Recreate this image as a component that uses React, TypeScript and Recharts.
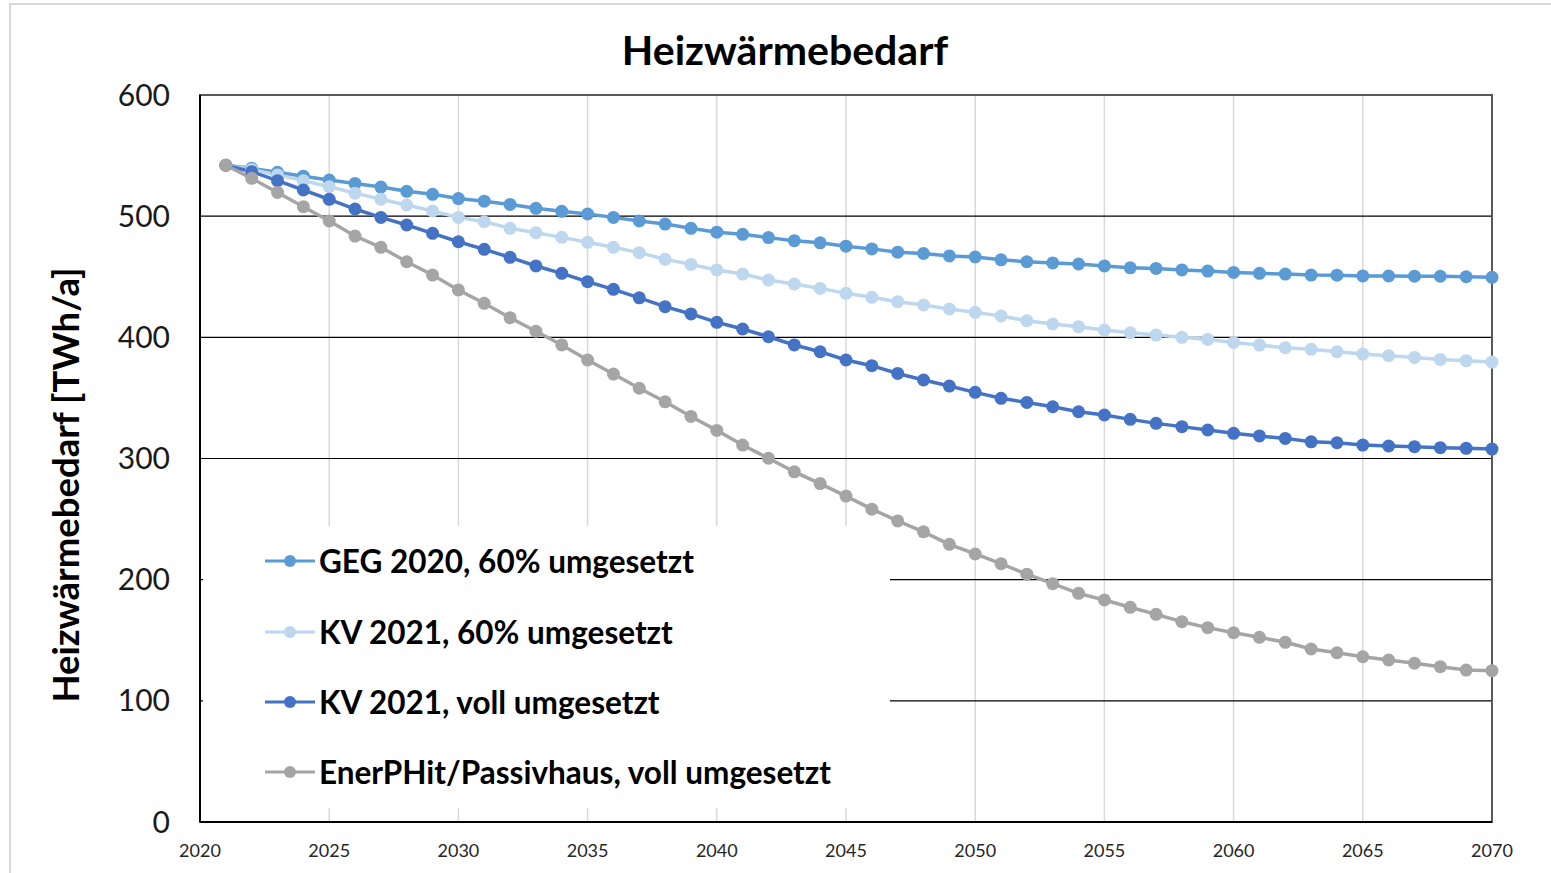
import { CartesianGrid, Legend, Line, LineChart, ReferenceArea, XAxis, YAxis } from 'recharts';

const years = [
  2021, 2022, 2023, 2024, 2025, 2026, 2027, 2028, 2029, 2030,
  2031, 2032, 2033, 2034, 2035, 2036, 2037, 2038, 2039, 2040,
  2041, 2042, 2043, 2044, 2045, 2046, 2047, 2048, 2049, 2050,
  2051, 2052, 2053, 2054, 2055, 2056, 2057, 2058, 2059, 2060,
  2061, 2062, 2063, 2064, 2065, 2066, 2067, 2068, 2069, 2070,
];

const geg60 = [
  542, 539.5, 536.2, 533, 529.8, 527, 524, 520.5, 518, 514.5,
  512.4, 509.7, 506.5, 504, 501.8, 499, 496, 493.5, 490, 486.8,
  485, 482.3, 479.8, 478, 475.2, 473, 470.3, 469.2, 467.2, 466.3,
  464, 462.4, 461.4, 460.5, 458.9, 457.4, 456.9, 455.6, 454.7, 453.6,
  452.8, 452.2, 451.4, 451.3, 450.7, 450.6, 450.5, 450.4, 450, 449.5,
];

const kv60 = [
  542, 538.5, 534, 529.3, 524.3, 519, 514, 509.2, 504.3, 499,
  495.4, 490, 486.4, 482.5, 478.4, 474.3, 469.9, 464.4, 460.2, 455.6,
  452.2, 447.3, 444, 440.4, 436.3, 433, 429.4, 426.7, 423.4, 420.6,
  417.6, 413.7, 411, 408.8, 406, 403.8, 401.9, 400, 398.3, 395.8,
  393.6, 391.4, 390.1, 388.1, 386.2, 384.8, 383.4, 381.8, 380.7, 379.6,
];

const kvVoll = [
  542, 536.7, 529.3, 521.6, 513.9, 505.9, 499, 492.7, 485.8, 478.9,
  472.6, 466, 458.9, 452.8, 445.9, 439.6, 432.6, 425.3, 419.3, 412.4,
  406.9, 400.5, 393.7, 388.1, 381.3, 376.6, 370.2, 364.8, 359.8, 354.6,
  349.7, 346.3, 342.7, 338.6, 335.9, 332.3, 329, 326.3, 323.5, 320.8,
  318.6, 316.6, 313.8, 313, 311.1, 310.3, 309.8, 308.9, 308.4, 307.8,
];

const passivhaus = [
  542, 531.2, 519.6, 507.8, 496, 483.6, 474.3, 462.4, 451.4, 439.1,
  428.1, 416.2, 405, 393.7, 381.3, 369.7, 358, 346.8, 334.7, 323.2,
  311.1, 300.2, 289, 279.3, 269, 258.2, 248.5, 239.5, 229.2, 221.2,
  213.2, 204.5, 196.7, 188.7, 183.2, 177.2, 171.4, 165.3, 160.4, 156.2,
  152.4, 148.3, 142.8, 139.7, 136.4, 133.7, 131, 128.2, 125.4, 124.9,
];

const xTicks = [2020, 2025, 2030, 2035, 2040, 2045, 2050, 2055, 2060, 2065, 2070];
const yTicks = [0, 100, 200, 300, 400, 500, 600];

const series = [
  { key: 'geg60', name: 'GEG 2020, 60% umgesetzt', color: '#5B9BD5' },
  { key: 'kv60', name: 'KV 2021, 60% umgesetzt', color: '#BDD7EE' },
  { key: 'kvVoll', name: 'KV 2021, voll umgesetzt', color: '#4472C4' },
  { key: 'passivhaus', name: 'EnerPHit/Passivhaus, voll umgesetzt', color: '#A5A5A5' },
];

const data = years.map((year, i) => ({
  year,
  geg60: geg60[i],
  kv60: kv60[i],
  kvVoll: kvVoll[i],
  passivhaus: passivhaus[i],
}));

const FONT = 'Lato, "Open Sans", sans-serif';

function LegendBox() {
  return (
    <div style={{ background: '#fff', width: '100%', height: '100%', paddingTop: 0, boxSizing: 'border-box' }}>
      {series.map((s) => (
        <div key={s.key} style={{ display: 'flex', alignItems: 'center', height: 70.4, marginLeft: 60 }}>
          <svg width={56} height={20} style={{ flex: 'none' }}>
            <line x1={2} y1={10} x2={52} y2={10} stroke={s.color} strokeWidth={3} />
            <circle cx={27} cy={10} r={6} fill={s.color} />
          </svg>
          <span style={{ fontFamily: FONT, fontWeight: 700, fontSize: 31.5, color: '#000', whiteSpace: 'nowrap' }}>
            {s.name}
          </span>
        </div>
      ))}
    </div>
  );
}

export default function App() {
  return (
    <div style={{ position: 'absolute', left: 0, top: 0, width: 1551, height: 873, overflow: 'hidden', background: '#fff' }}>
      <div style={{ position: 'absolute', left: 9, top: 3, width: 1600, height: 900, border: '2px solid #d9d9d9' }} />
      <div
        style={{
          position: 'absolute', left: 0, width: 1570, top: 24, textAlign: 'center',
          fontFamily: FONT, fontWeight: 700, fontSize: 41, lineHeight: '52px', color: '#000',
        }}
      >
        Heizwärmebedarf
      </div>
      <div
        style={{
          position: 'absolute', left: 65, top: 485, transform: 'translate(-50%, -50%) rotate(-90deg)',
          fontFamily: FONT, fontWeight: 700, fontSize: 36.5, color: '#000', whiteSpace: 'nowrap',
        }}
      >
        Heizwärmebedarf [TWh/a]
      </div>
      <LineChart
        width={1551}
        height={873}
        data={data}
        margin={{ top: 95, right: 59, bottom: 11, left: 110 }}
        style={{ position: 'absolute', left: 0, top: 0 }}
      >
        <CartesianGrid horizontal={false} vertical stroke="#d9d9d9" strokeWidth={1.5} />
        <CartesianGrid horizontal vertical={false} stroke="#000" strokeWidth={1.2} />
        <ReferenceArea x1={2020} x2={2070} y1={0} y2={600} fill="none" stroke="#595959" strokeWidth={2} />
        <XAxis
          dataKey="year"
          type="number"
          domain={[2020, 2070]}
          ticks={xTicks}
          height={40}
          tickLine={false}
          tickSize={0}
          tickMargin={22}
          axisLine={{ stroke: '#000', strokeWidth: 2 }}
          tick={{ fontFamily: FONT, fontSize: 18, fill: '#262626' }}
        />
        <YAxis
          type="number"
          domain={[0, 600]}
          ticks={yTicks}
          width={90}
          tickLine={false}
          tickSize={0}
          tickMargin={30}
          axisLine={{ stroke: '#000', strokeWidth: 2 }}
          tick={{ fontFamily: FONT, fontSize: 30, fill: '#1a1a1a' }}
        />
        {series.map((s) => (
          <Line
            key={s.key}
            dataKey={s.key}
            name={s.name}
            stroke={s.color}
            strokeWidth={3.5}
            dot={{ r: 6.5, fill: s.color, stroke: s.color, strokeWidth: 0 }}
            activeDot={false}
            isAnimationActive={false}
          />
        ))}
        <Legend
          layout="vertical"
          align="center"
          verticalAlign="middle"
          wrapperStyle={{ left: 203, top: 526, width: 687, height: 282 }}
          content={() => <LegendBox />}
        />
      </LineChart>
    </div>
  );
}
